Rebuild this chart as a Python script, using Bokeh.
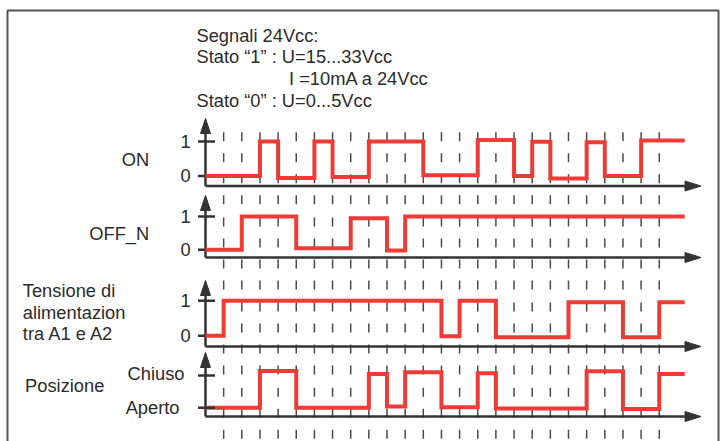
from bokeh.plotting import figure
from bokeh.models import Range1d
from bokeh.core.properties import value
from bokeh.embed import file_html
from bokeh.resources import INLINE

# ---------------- data ----------------
grid_times = list(range(1, 26))          # dashed time grid
t_end = 26.4                              # end of the drawn signals

header_lines = ["Segnali 24Vcc:",
                "Stato \u201c1\u201d : U=15...33Vcc",
                "I =10mA a 24Vcc",
                "Stato \u201c0\u201d : U=0...5Vcc"]

on_times = [0, 3, 4, 6, 7, 9, 12, 15, 17, 18, 19, 21, 22, 24]
on_levels = [0, 1, -0.06, 1, -0.03, 1, 0.02, 1.04, 0, 0.99, -0.07, 0.98, 0, 1.03]

off_times = [0, 2, 5, 8, 10, 11]
off_levels = [0, 1, 0.05, 0.95, -0.02, 1]

tens_times = [0, 1, 13, 14, 16, 20, 23, 25]
tens_levels = [0, 1, -0.01, 1, -0.04, 0.96, -0.04, 0.96]

pos_times = [0, 3, 5, 9, 10, 11, 13, 15, 16, 21, 23, 25]
pos_levels = [0, 1.14, 0, 1.05, 0.04, 1.10, 0.02, 1.07, -0.02, 1.13, -0.04, 1.05]

binary_ticks = ["0", "1"]
pos_ticks = ["Aperto", "Chiuso"]

# ---------------- layout ----------------
W, H = 720, 441
PX0 = 205.0     # x of t = 0
PXU = 18.15     # px per time unit
TY = -6.5       # text baseline correction


def tx(px):
    return (px - PX0) / PXU


RED = "#ef3b36"
INK = "#333333"
TXT = "#2b2b2b"
GRID = "#4a4a4a"
FONT = value("Liberation Sans")
FS = "18.3px"

p = figure(width=W, height=H,
           x_range=Range1d(tx(0), tx(W)),
           y_range=Range1d(H, 0),
           output_backend="svg", toolbar_location=None,
           x_axis_type=None, y_axis_type=None, min_border=0)
p.outline_line_color = None
p.background_fill_color = "white"
p.border_fill_color = "white"

rows = [
    dict(key="on", times=on_times, levels=on_levels, y1=141.0, y0=175.5,
         axis=185.5, tip=118.0, ticks=binary_ticks),
    dict(key="off", times=off_times, levels=off_levels, y1=216.0, y0=249.3,
         axis=257.0, tip=195.0, ticks=binary_ticks),
    dict(key="tens", times=tens_times, levels=tens_levels, y1=300.3, y0=335.3,
         axis=346.0, tip=280.0, ticks=binary_ticks),
    dict(key="pos", times=pos_times, levels=pos_levels, y1=375.0, y0=407.3,
         axis=416.0, tip=352.0, ticks=pos_ticks),
]

extra = {}
for r in rows:
    k = r["y0"] - r["y1"]
    extra[r["key"]] = Range1d((r["y0"] - H) / k, r["y0"] / k)
p.extra_y_ranges = extra

# outer frame
p.quad(left=[tx(7)], right=[tx(718)], top=[10], bottom=[460],
       fill_alpha=0, line_color="#555555", line_width=2)

# dashed vertical time grid (re-phased in four pieces)
seg_starts = [131.7, 216.9, 302.1, 387.3]
seg_ends = [203.7, 288.9, 374.1, 450.0]
gx, gy0, gy1 = [], [], []
for t in grid_times:
    for s, e in zip(seg_starts, seg_ends):
        gx.append(t)
        gy0.append(s)
        gy1.append(e)
p.segment(x0=gx, y0=gy0, x1=gx, y1=gy1, line_color=GRID, line_width=1.5,
          line_dash="9 12", line_cap="butt")

# axes with arrows
for r in rows:
    ay, tip = r["axis"], r["tip"]
    p.segment(x0=[0], y0=[ay], x1=[0], y1=[tip + 13], line_color=INK,
              line_width=2.5)
    p.patch(x=[tx(PX0 - 5), tx(PX0 + 5), 0], y=[tip + 15, tip + 15, tip],
            fill_color=INK, line_color=INK, line_width=1)
    p.segment(x0=[0], y0=[ay], x1=[tx(686)], y1=[ay], line_color=INK,
              line_width=2.5)
    p.patch(x=[tx(684.5), tx(684.5), tx(700.5)], y=[ay - 5, ay + 5, ay],
            fill_color=INK, line_color=INK, line_width=1)

# tick marks (level 1 / level 0)
for r in rows:
    lv = [1] if r["key"] == "pos" else [1, 0]
    p.segment(x0=[tx(197.5)] * len(lv), y0=lv, x1=[tx(214.5)] * len(lv), y1=lv,
              y_range_name=r["key"], line_color=INK, line_width=2.5)

# signals
for r in rows:
    xs = list(r["times"]) + [t_end]
    ys = list(r["levels"]) + [r["levels"][-1]]
    p.step(x=xs, y=ys, mode="after", y_range_name=r["key"], line_color=RED,
           line_width=4, line_join="miter", line_cap="butt")

# Aperto tick is drawn over the signal
p.segment(x0=[tx(197.5)], y0=[0], x1=[tx(214.5)], y1=[0], y_range_name="pos",
          line_color=INK, line_width=2.5)

# tick labels
for r in rows[:3]:
    p.text(x=[tx(185.2)] * 2, y=[r["y0"] + 6 + TY, r["y1"] + 6 + TY],
           text=r["ticks"],
           text_font=FONT, text_font_size=FS, text_color=TXT,
           text_align="center", text_baseline="alphabetic")
pr = rows[3]
p.text(x=[tx(184.0), tx(179.0)], y=[pr["y1"] + 4 + TY, pr["y0"] + 6 + TY],
       text=[pr["ticks"][1], pr["ticks"][0]],
       text_font=FONT, text_font_size=FS, text_color=TXT,
       text_align="right", text_baseline="alphabetic")

# header text
p.text(x=[tx(196.0), tx(196.0), tx(288.5), tx(196.0)],
       y=[41.7 + TY, 62.7 + TY, 84.3 + TY, 106.0 + TY], text=header_lines,
       text_font=FONT, text_font_size=FS, text_color=TXT,
       text_align="left", text_baseline="alphabetic")

# row labels
p.text(x=[tx(148.7), tx(148.7)], y=[165.0 + TY, 239.3 + TY], text=["ON", "OFF_N"],
       text_font=FONT, text_font_size=FS, text_color=TXT,
       text_align="right", text_baseline="alphabetic")
p.text(x=[tx(22.3)] * 3 + [tx(24.6)],
       y=[296.7 + TY, 318.3 + TY, 339.3 + TY, 391.7 + TY],
       text=["Tensione di", "alimentazion", "tra A1 e A2", "Posizione"],
       text_font=FONT, text_font_size=FS, text_color=TXT,
       text_align="left", text_baseline="alphabetic")

open("out.html", "w").write(file_html(p, INLINE))
